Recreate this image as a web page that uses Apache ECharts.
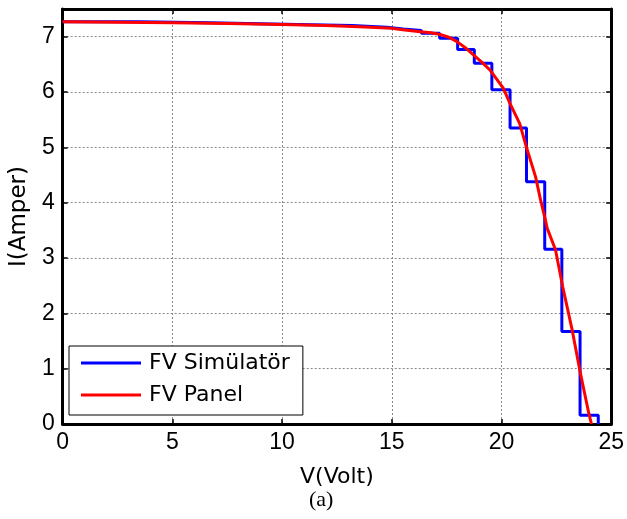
<!DOCTYPE html>
<html>
<head>
<meta charset="utf-8">
<script src="https://cdn.jsdelivr.net/npm/echarts@6/dist/echarts.min.js"></script>
<style>
  html, body { margin: 0; padding: 0; background: #fff; }
  #chart { width: 627px; height: 519px; }
</style>
</head>
<body>
<div id="chart"></div>
<script>
// FV Simülatör: staircase, each level starts at the given voltage.
const simV = [0, 3.47, 6.71, 10.7, 13.19, 14.77, 15.52, 16.35, 17.18, 18.0, 18.76,
  19.56, 20.39, 21.14, 21.97, 22.75, 23.58, 24.41];
const simI = [7.27, 7.25, 7.22, 7.20, 7.17, 7.14, 7.11, 7.06, 6.97, 6.77, 6.52,
  6.04, 5.35, 4.38, 3.16, 1.67, 0.16, 0];

// FV Panel: measured I-V curve.
const panelV = [0, 2.5, 5, 7.5, 10, 12, 13.5, 15, 15.4, 16.3, 16.8, 17.2, 17.6, 17.97,
  18.35, 18.72, 19.1, 19.47, 20.08, 20.38, 20.83, 21.13, 21.55, 21.78, 22.0, 22.08,
  22.46, 22.79, 23.22, 23.6, 23.98, 24.1];
const panelI = [7.27, 7.26, 7.25, 7.24, 7.22, 7.20, 7.18, 7.15, 7.13, 7.09, 7.07,
  7.04, 6.99, 6.91, 6.80, 6.67, 6.54, 6.40, 6.07, 5.80, 5.43, 5.01, 4.47, 4.05,
  3.69, 3.54, 3.15, 2.48, 1.70, 0.91, 0.19, 0];

const zip = (xs, ys) => xs.map((x, i) => [x, ys[i]]);

const TICK_FONT = { fontFamily: 'Liberation Sans', fontSize: 23, color: '#000' };
const TEXT_FONT = 'DejaVu Sans';

const frame = { show: true, onZero: false, lineStyle: { color: '#000', width: 3 } };
const tick = { show: true, inside: true, length: 5, lineStyle: { color: '#000', width: 1.5 } };
const grid = { show: true, lineStyle: { color: '#888', type: [2, 2], width: 1 } };

const chart = echarts.init(document.getElementById('chart'));
chart.setOption({
  animation: false,
  grid: { left: 60, right: 14, top: 9, bottom: 95 },
  xAxis: [
    {
      type: 'value', min: 0, max: 25, interval: 5, position: 'bottom',
      axisLine: frame, axisTick: tick, splitLine: grid,
      axisLabel: Object.assign({ margin: 7 }, TICK_FONT),
      name: 'V(Volt)', nameLocation: 'middle', nameGap: 42,
      nameTextStyle: { fontFamily: TEXT_FONT, fontSize: 22, color: '#000' },
    },
    {
      type: 'value', min: 0, max: 25, interval: 5, position: 'top',
      axisLine: frame, axisTick: tick, splitLine: { show: false },
      axisLabel: { show: false },
    },
  ],
  yAxis: [
    {
      type: 'value', min: 0, max: 7.5, interval: 1, position: 'left',
      axisLine: frame, axisTick: tick, splitLine: grid,
      axisLabel: Object.assign({ margin: 8, showMaxLabel: false }, TICK_FONT),
      name: 'I(Amper)', nameLocation: 'middle', nameGap: 25,
      nameTextStyle: { fontFamily: TEXT_FONT, fontSize: 23, color: '#000' },
    },
    {
      type: 'value', min: 0, max: 7.5, interval: 1, position: 'right',
      axisLine: frame, axisTick: tick, splitLine: { show: false },
      axisLabel: { show: false },
    },
  ],
  legend: {
    orient: 'vertical',
    left: 69, top: 346,
    backgroundColor: '#fff',
    borderColor: '#000', borderWidth: 1, borderRadius: 0,
    padding: [5, 13, 8, 12],
    itemWidth: 60, itemHeight: 3, itemGap: 8,
    icon: 'rect',
    textStyle: { fontFamily: TEXT_FONT, fontSize: 22, color: '#000', lineHeight: 24, padding: [0, 0, 0, 3] },
    data: ['FV Simülatör', 'FV Panel'],
  },
  graphic: [{
    type: 'text', left: 309, top: 489,
    style: { text: '(a)', font: '22px "Liberation Serif"', fill: '#000' },
  }],
  series: [
    {
      name: 'FV Simülatör', type: 'line', step: 'end',
      showSymbol: false, color: '#0000ff',
      lineStyle: { width: 3, color: '#0000ff' },
      data: zip(simV, simI), z: 2,
    },
    {
      name: 'FV Panel', type: 'line',
      showSymbol: false, color: '#ff0000',
      lineStyle: { width: 3, color: '#ff0000', join: 'round' },
      data: zip(panelV, panelI), z: 3,
    },
  ],
});
</script>
</body>
</html>
